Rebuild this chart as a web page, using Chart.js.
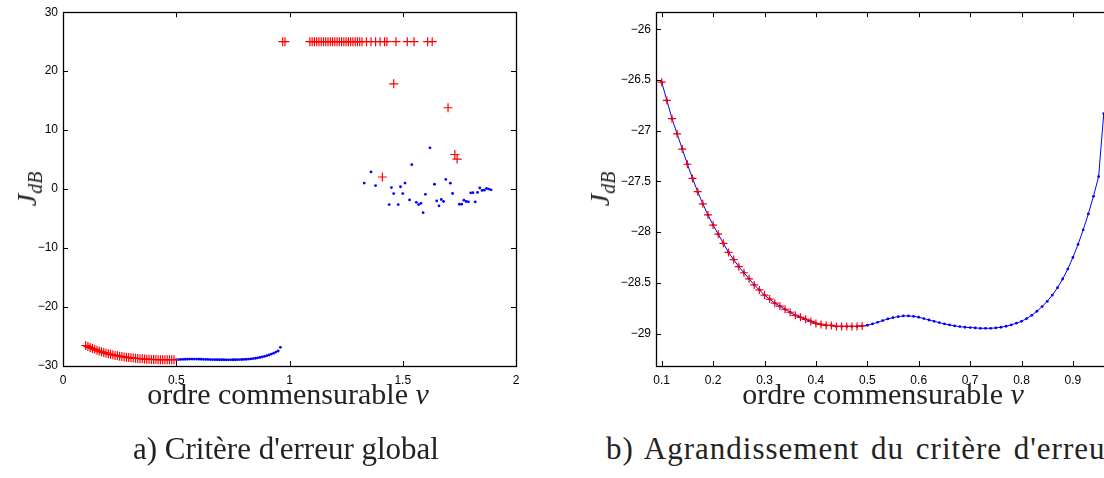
<!DOCTYPE html>
<html>
<head>
<meta charset="utf-8">
<script src="https://cdn.jsdelivr.net/npm/chart.js@4.4.0/dist/chart.umd.min.js"></script>
<style>
  html, body { margin: 0; padding: 0; width: 1104px; height: 478px; overflow: hidden; background: #fff; }
  .box { position: absolute; top: 0; }
  .txt { position: absolute; font-family: "Liberation Serif", "DejaVu Serif", serif; color: #222; white-space: nowrap; line-height: 1; }
  .xt { font-size: 30px; top: 379px; transform: translateX(-50%); }
  .cap { font-size: 31px; top: 433px; }
  .capb { letter-spacing: 1px; word-spacing: 3px; }
  .yt { font-size: 28px; transform: translate(-50%, -50%) rotate(-90deg); font-style: italic; }
  .yt sub { font-size: 20px; vertical-align: -6px; }
</style>
</head>
<body>
<div class="box" style="left:0;width:560px;height:420px"><canvas id="chartA" width="560" height="420"></canvas></div>
<div class="box" style="left:600px;width:560px;height:420px"><canvas id="chartB" width="560" height="420"></canvas></div>

<div class="txt yt" style="left:29px;top:189px">J<sub>dB</sub></div>
<div class="txt yt" style="left:602px;top:189px">J<sub>dB</sub></div>
<div class="txt xt" style="left:288px">ordre commensurable <i>ν</i></div>
<div class="txt xt" style="left:883px">ordre commensurable <i>ν</i></div>
<div class="txt cap" style="left:133px">a) Critère d'erreur global</div>
<div class="txt cap capb" style="left:606px">b) Agrandissement du critère d'erreur</div>

<script>
// commensurate order nu, red "+" part (low orders)
const nuPlus = [0.10, 0.11, 0.12, 0.13, 0.14, 0.15, 0.16, 0.17, 0.18, 0.19,
                0.20, 0.21, 0.22, 0.23, 0.24, 0.25, 0.26, 0.27, 0.28, 0.29,
                0.30, 0.31, 0.32, 0.33, 0.34, 0.35, 0.36, 0.37, 0.38, 0.39,
                0.40, 0.41, 0.42, 0.43, 0.44, 0.45, 0.46, 0.47, 0.48, 0.49];
const jPlus = [-26.52, -26.70, -26.88, -27.03, -27.18, -27.33, -27.47, -27.60, -27.72, -27.83,
               -27.93, -28.02, -28.11, -28.20, -28.27, -28.34, -28.40, -28.46, -28.52, -28.57,
               -28.62, -28.66, -28.70, -28.73, -28.76, -28.79, -28.82, -28.84, -28.86, -28.88,
               -28.90, -28.91, -28.92, -28.92, -28.93, -28.93, -28.93, -28.93, -28.93, -28.925];

// blue "." part
const nuDot = [0.50, 0.51, 0.52, 0.53, 0.54, 0.55, 0.56, 0.57, 0.58, 0.59,
               0.60, 0.61, 0.62, 0.63, 0.64, 0.65, 0.66, 0.67, 0.68, 0.69,
               0.70, 0.71, 0.72, 0.73, 0.74, 0.75, 0.76, 0.77, 0.78, 0.79,
               0.80, 0.81, 0.82, 0.83, 0.84, 0.85, 0.86, 0.87, 0.88, 0.89,
               0.90, 0.91, 0.92, 0.93, 0.94, 0.95, 0.96];
const jDot = [-28.918, -28.905, -28.889, -28.872, -28.856, -28.843, -28.833, -28.826, -28.826, -28.830,
              -28.839, -28.852, -28.866, -28.879, -28.892, -28.905, -28.915, -28.925, -28.931, -28.938,
              -28.941, -28.944, -28.948, -28.948, -28.948, -28.944, -28.938, -28.928, -28.915, -28.898,
              -28.879, -28.852, -28.820, -28.780, -28.734, -28.682, -28.620, -28.548, -28.462, -28.364,
              -28.249, -28.121, -27.977, -27.820, -27.646, -27.452, -26.830];

// high orders: red "+" saturated at 25 dB
const nuSat = [0.97, 0.98, 1.09, 1.10, 1.11, 1.12, 1.13, 1.14, 1.15, 1.16,
               1.17, 1.18, 1.19, 1.20, 1.21, 1.22, 1.23, 1.24, 1.25, 1.26,
               1.27, 1.28, 1.29, 1.30, 1.31, 1.32, 1.34, 1.36, 1.38, 1.40,
               1.42, 1.43, 1.47, 1.52, 1.55, 1.61, 1.63];
const jSat = [25, 25, 25, 25, 25, 25, 25, 25, 25, 25,
              25, 25, 25, 25, 25, 25, 25, 25, 25, 25,
              25, 25, 25, 25, 25, 25, 25, 25, 25, 25,
              25, 25, 25, 25, 25, 25, 25];

// high orders: other red "+"
const nuRedHi = [1.41, 1.46, 1.70, 1.73, 1.74];
const jRedHi = [2.05, 17.85, 13.8, 5.87, 5.1];

// high orders: blue "."
const nuBlueHi = [1.33, 1.36, 1.38, 1.44, 1.45, 1.46, 1.48, 1.49, 1.50, 1.51,
                  1.53, 1.54, 1.56, 1.57, 1.58, 1.59, 1.60, 1.62, 1.64, 1.65,
                  1.66, 1.67, 1.68, 1.69, 1.71, 1.72, 1.75, 1.76, 1.77, 1.78,
                  1.79, 1.80, 1.81, 1.82, 1.83, 1.84, 1.85, 1.86, 1.87, 1.88, 1.89];
const jBlueHi = [1.03, 2.92, 0.60, -2.62, 0.26, -0.76, -2.62, 0.40, -0.76, 1.02,
                 -1.83, 4.15, -2.24, -2.62, -2.42, -4.0, -0.88, 7.0, 0.82, -2.0,
                 -2.83, -1.76, -2.1, 1.64, 1.0, -0.75, -2.57, -2.55, -1.88, -2.1,
                 -2.15, -0.63, -0.6, -2.18, -0.57, 0.2, -0.22, -0.18, 0.1, 0.0, -0.12];

// tick labels
const xTicksA = [0, 0.5, 1, 1.5, 2];
const yTicksA = [-30, -20, -10, 0, 10, 20, 30];
const xTicksB = [0.1, 0.2, 0.3, 0.4, 0.5, 0.6, 0.7, 0.8, 0.9];
const yTicksB = [-29, -28.5, -28, -27.5, -27, -26.5, -26];

const pts = (xs, ys) => xs.map((x, i) => ({ x: x, y: ys[i] }));

Chart.defaults.font.family = '"Liberation Sans", Arial, sans-serif';
Chart.defaults.font.size = 12;
Chart.defaults.color = "#000";

// MATLAB-like box with inward ticks on all sides
const frame = {
  id: "frame",
  afterDatasetsDraw(chart) {
    const { ctx, chartArea: a, scales } = chart;
    const L = 5;
    ctx.save();
    ctx.strokeStyle = "#000";
    ctx.lineWidth = 1;
    ctx.beginPath();
    scales.x.ticks.forEach((t, i) => {
      const p = Math.round(scales.x.getPixelForTick(i)) + 0.5;
      ctx.moveTo(p, a.bottom); ctx.lineTo(p, a.bottom - L);
      ctx.moveTo(p, a.top); ctx.lineTo(p, a.top + L);
    });
    scales.y.ticks.forEach((t, i) => {
      const p = Math.round(scales.y.getPixelForTick(i)) + 0.5;
      ctx.moveTo(a.left, p); ctx.lineTo(a.left + L, p);
      ctx.moveTo(a.right, p); ctx.lineTo(a.right - L, p);
    });
    ctx.stroke();
    ctx.lineWidth = 1.3;
    ctx.strokeRect(Math.round(a.left) + 0.5, Math.round(a.top) + 0.5,
                   Math.round(a.right - a.left), Math.round(a.bottom - a.top));
    ctx.restore();
  }
};

function axis(min, max, ticks, size, pad) {
  return {
    type: "linear",
    min: min,
    max: max,
    grid: { display: false, drawTicks: false },
    border: { display: false },
    afterBuildTicks: s => { s.ticks = ticks.map(v => ({ value: v })); },
    afterFit: s => { if (s.isHorizontal()) s.height = size; else s.width = size; },
    ticks: {
      padding: pad,
      autoSkip: false,
      maxRotation: 0,
      callback: v => String(v).replace("-", "\u2212")
    }
  };
}

const common = {
  responsive: false,
  animation: false,
  events: [],
  plugins: { legend: { display: false }, tooltip: { enabled: false } }
};

const red = { pointStyle: "cross", pointRadius: 4.5, pointBorderWidth: 1.2,
              pointBorderColor: "#ff0000", pointBackgroundColor: "#ff0000", showLine: false };
const blueDot = { pointStyle: "circle", pointRadius: 1.4, pointBorderWidth: 0,
                  pointBackgroundColor: "#0000ff", showLine: false };

new Chart(document.getElementById("chartA"), {
  type: "scatter",
  data: {
    datasets: [
      Object.assign({ data: pts(nuPlus, jPlus), order: 0 }, red),
      Object.assign({ data: pts(nuSat, jSat), order: 0 }, red),
      Object.assign({ data: pts(nuRedHi, jRedHi), order: 0 }, red),
      Object.assign({ data: pts(nuDot, jDot), order: 1 }, blueDot),
      Object.assign({ data: pts(nuBlueHi, jBlueHi), order: 1 }, blueDot)
    ]
  },
  options: Object.assign({}, common, {
    layout: { padding: { left: 0, top: 11, right: 44, bottom: 0 } },
    scales: {
      x: axis(0, 2, xTicksA, 54, 7),
      y: axis(-30, 30, yTicksA, 63, 5)
    }
  }),
  plugins: [frame]
});

new Chart(document.getElementById("chartB"), {
  type: "scatter",
  data: {
    datasets: [
      Object.assign({ data: pts(nuPlus, jPlus), order: 0 }, red, { pointRadius: 4 }),
      Object.assign({ data: pts(nuPlus.concat(nuDot), jPlus.concat(jDot)), order: 1 }, blueDot,
                    { showLine: true, borderColor: "#0000ff", borderWidth: 1, pointRadius: 1.4 })
    ]
  },
  options: Object.assign({}, common, {
    layout: { padding: { left: 0, top: 11, right: 51, bottom: 0 } },
    scales: {
      x: axis(0.0889, 0.9702, xTicksB, 54, 7),
      y: axis(-29.32, -25.83, yTicksB, 56, 5)
    }
  }),
  plugins: [frame]
});
</script>
</body>
</html>
